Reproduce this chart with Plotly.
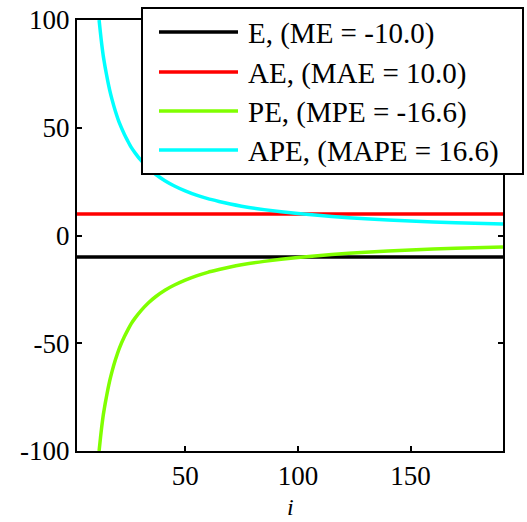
import plotly.graph_objects as go

# ---- data ----
e_i = [2, 191]
e_v = [-10.0, -10.0]
ae_i = [2, 191]
ae_v = [10.0, 10.0]

pe_i = [11.8, 12.4, 13, 13.7, 14.5, 15.7, 16.5, 17.5, 19, 20.9, 23, 24.5, 26, 28, 30.6, 33.5, 37, 41, 45, 50,
        55, 60, 65, 70, 75, 85, 100, 115, 130, 150, 170, 191]
pe_v = [-100, -94, -88.5, -83, -78, -71.4, -67.5, -63.3, -57.8, -52, -47, -43.9, -41, -38, -34.6, -31.4,
        -28.3, -25.4, -23.1, -20.7, -18.7, -17.1, -15.8, -14.6, -13.6, -12, -10.2, -8.8, -7.8, -6.7, -5.9, -5.3]

ape_i = [11.8, 12.4, 13, 13.7, 14.5, 15.7, 16.5, 17.5, 19, 20.9, 23, 24.5, 26, 28, 30.6, 33.5, 37, 41, 45, 50,
         55, 60, 65, 70, 75, 85, 100, 115, 130, 150, 170, 191]
ape_v = [100, 94, 88.5, 83, 78, 71.4, 67.5, 63.3, 57.8, 52, 47, 43.9, 41, 38, 34.6, 31.4,
         28.3, 25.4, 23.1, 20.7, 18.7, 17.1, 15.8, 14.6, 13.6, 12, 10.2, 8.8, 7.8, 6.7, 5.9, 5.3]

legend_labels = ["E, (ME = -10.0)", "AE, (MAE = 10.0)", "PE, (MPE = -16.6)", "APE, (MAPE = 16.6)"]
colors = ["#000000", "#ff0000", "#80ff00", "#00ffff"]

xtick_vals = [50, 100, 150]
xtick_text = ["50", "100", "150"]
ytick_vals = [-100, -50, 0, 50, 100]
ytick_text = ["-100", "-50", "0", "50", "100"]
x_title = "<i>i</i>"

FONT = '"Liberation Serif", "DejaVu Serif", "Times New Roman", Times, serif'
FS = 27

W, H = 527, 522
ML, MR, MT, MB = 77, 24, 20, 71
PW, PH = W - ML - MR, H - MT - MB


def px_x(px):
    return (px - ML) / PW


def px_y(py):
    return (H - MB - py) / PH


fig = go.Figure()
series = [(e_i, e_v), (ae_i, ae_v), (pe_i, pe_v), (ape_i, ape_v)]
for (xs, ys), col, lab in zip(series, colors, legend_labels):
    fig.add_trace(go.Scatter(x=xs, y=ys, mode="lines", name=lab,
                             line=dict(color=col, width=3.5, shape="spline", smoothing=0.5),
                             showlegend=False))

axis_common = dict(showline=True, linecolor="black", linewidth=2, mirror="ticks",
                   ticks="inside", ticklen=5, tickwidth=2, tickcolor="black",
                   showgrid=False, zeroline=False, automargin=False,
                   tickfont=dict(family=FONT, size=FS, color="black"))

fig.update_xaxes(range=[2, 191], tickvals=xtick_vals, ticktext=xtick_text, **axis_common)
fig.update_yaxes(range=[-100, 100], tickvals=ytick_vals, ticktext=ytick_text, **axis_common)

# manual legend box
shapes = [dict(type="rect", xref="paper", yref="paper",
               x0=px_x(142), x1=px_x(523), y0=px_y(174), y1=px_y(8),
               fillcolor="white", line=dict(color="black", width=2), layer="above")]
annotations = [dict(xref="paper", yref="paper", x=px_x(290), y=px_y(507),
                    xanchor="center", yanchor="middle", showarrow=False, text=x_title,
                    borderpad=0, font=dict(family=FONT, size=24, color="black"))]
rows_y = [32, 72, 111, 150]
for ry, col, lab in zip(rows_y, colors, legend_labels):
    shapes.append(dict(type="line", xref="paper", yref="paper",
                       x0=px_x(159), x1=px_x(238), y0=px_y(ry), y1=px_y(ry),
                       line=dict(color=col, width=3.5), layer="above"))
    annotations.append(dict(xref="paper", yref="paper", x=px_x(246), y=px_y(ry + 1),
                            xanchor="left", yanchor="middle", showarrow=False, text=lab,
                            font=dict(family=FONT, size=29, color="black")))

fig.update_layout(width=W, height=H, margin=dict(l=ML, r=MR, t=MT, b=MB),
                  paper_bgcolor="white", plot_bgcolor="white",
                  font=dict(family=FONT, size=FS, color="black"),
                  shapes=shapes, annotations=annotations, showlegend=False)

fig.write_html("out.html")
